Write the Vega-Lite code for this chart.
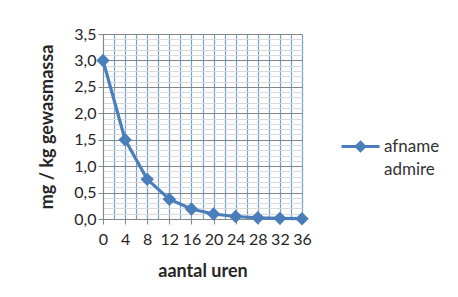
{
  "$schema": "https://vega.github.io/schema/vega-lite/v6.json",
  "width": 199,
  "height": 185,
  "autosize": {"type": "none"},
  "padding": {"left": 103, "top": 34, "right": 156, "bottom": 78},
  "background": "white",
  "config": {
    "view": {"stroke": null},
    "font": "Lato",
    "axis": {"labelFont": "Lato", "titleFont": "Lato", "labelColor": "#262626", "titleColor": "#262626"}
  },
  "data": {
    "values": [
      {"uren": 0, "waarde": 3.0, "serie": "afname admire"},
      {"uren": 4, "waarde": 1.5, "serie": "afname admire"},
      {"uren": 8, "waarde": 0.75, "serie": "afname admire"},
      {"uren": 12, "waarde": 0.375, "serie": "afname admire"},
      {"uren": 16, "waarde": 0.19, "serie": "afname admire"},
      {"uren": 20, "waarde": 0.095, "serie": "afname admire"},
      {"uren": 24, "waarde": 0.047, "serie": "afname admire"},
      {"uren": 28, "waarde": 0.023, "serie": "afname admire"},
      {"uren": 32, "waarde": 0.012, "serie": "afname admire"},
      {"uren": 36, "waarde": 0.006, "serie": "afname admire"}
    ]
  },
  "mark": {
    "type": "line",
    "strokeWidth": 3.2,
    "point": {"shape": "diamond", "size": 180, "filled": true, "opacity": 1}
  },
  "encoding": {
    "x": {
      "field": "uren",
      "type": "quantitative",
      "scale": {"domain": [0, 36], "nice": false, "zero": false},
      "axis": {
        "title": "aantal uren",
        "titleFontSize": 18,
        "titleFontWeight": "bold",
        "titlePadding": 15,
        "values": [0, 2, 4, 6, 8, 10, 12, 14, 16, 18, 20, 22, 24, 26, 28, 30, 32, 34, 36],
        "labelExpr": "datum.value % 4 === 0 ? datum.label : ''",
        "labelFontSize": 16,
        "labelPadding": 7,
        "labelOverlap": false,
        "labelFlush": false,
        "tickSize": 5,
        "tickColor": "#868686",
        "tickOpacity": {"condition": {"test": "datum.value % 4 === 0", "value": 1}, "value": 0},
        "domainColor": "#868686",
        "grid": true,
        "gridColor": "#6f9fd8",
        "gridWidth": 1.2
      }
    },
    "y": {
      "field": "waarde",
      "type": "quantitative",
      "scale": {"domain": [0, 3.5], "nice": false},
      "axis": {
        "title": "mg / kg gewasmassa",
        "titleFontSize": 18,
        "titleFontWeight": "bold",
        "titlePadding": 17,
        "values": [0, 0.1, 0.2, 0.3, 0.4, 0.5, 0.6, 0.7, 0.8, 0.9, 1.0, 1.1, 1.2, 1.3, 1.4, 1.5, 1.6, 1.7, 1.8, 1.9, 2.0, 2.1, 2.2, 2.3, 2.4, 2.5, 2.6, 2.7, 2.8, 2.9, 3.0, 3.1, 3.2, 3.3, 3.4, 3.5],
        "labelExpr": "abs(datum.value*2 - round(datum.value*2)) < 0.001 ? replace(format(datum.value, '.1f'), '.', ',') : ''",
        "labelFontSize": 16,
        "labelPadding": 2,
        "labelOverlap": false,
        "labelFlush": false,
        "tickSize": 5,
        "tickColor": "#868686",
        "tickOpacity": {"condition": {"test": "abs(datum.value*2 - round(datum.value*2)) < 0.001", "value": 1}, "value": 0},
        "domainColor": "#868686",
        "grid": true,
        "gridColor": {"condition": {"test": "abs(datum.value*2 - round(datum.value*2)) < 0.001", "value": "#868686"}, "value": "#d9d9d9"},
        "gridWidth": 1
      }
    },
    "color": {
      "field": "serie",
      "type": "nominal",
      "scale": {"range": ["#4a7ebb"]},
      "legend": {
        "title": null,
        "orient": "none",
        "legendX": 237,
        "legendY": 92,
        "symbolType": "M-1,0H1M0,-0.22L0.22,0L0,0.22L-0.22,0Z",
        "symbolSize": 1444,
        "symbolStrokeWidth": 3,
        "symbolFillColor": "#4a7ebb",
        "symbolStrokeColor": "#4a7ebb",
        "labelExpr": "['afname', 'admire']",
        "labelFont": "Lato",
        "labelFontSize": 17,
        "labelColor": "#333333",
        "labelOffset": 3,
        "labelLimit": 200,
        "encode": {
          "labels": {
            "update": {
              "lineHeight": {"value": 23},
              "dy": {"value": 0}
            }
          }
        }
      }
    }
  }
}
